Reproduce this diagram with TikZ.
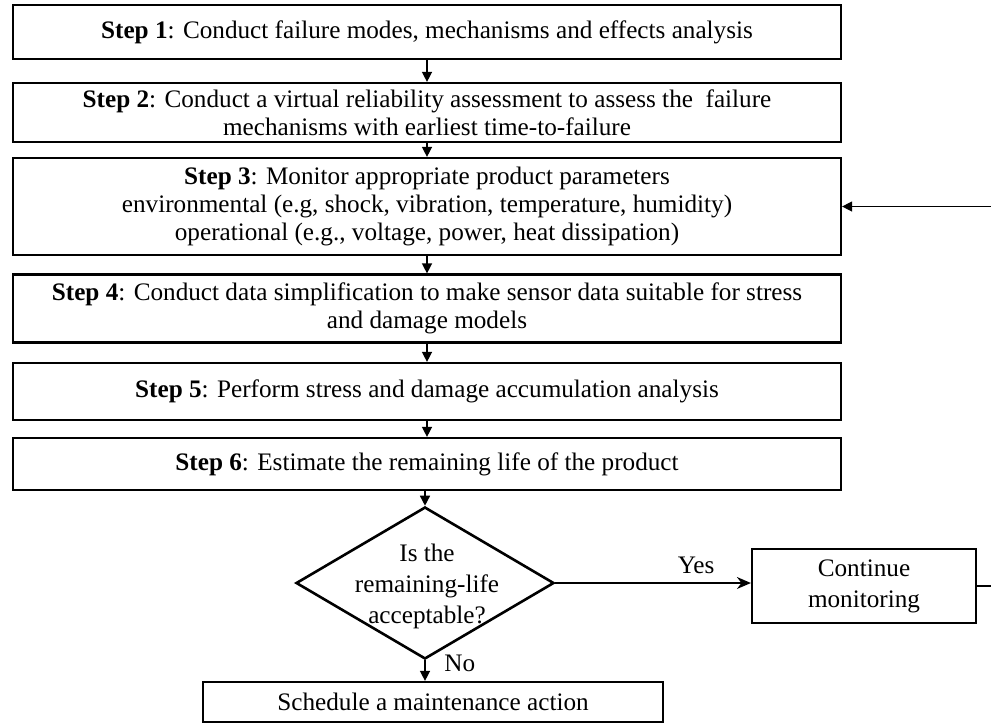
\documentclass[tikz,border=0pt]{standalone}
\usepackage{fontspec}
\setmainfont{Liberation Serif}
\usepackage{tikz}
\usetikzlibrary{shapes.geometric, arrows.meta, positioning}

\begin{document}
\begin{tikzpicture}[x=0.5pt, y=-0.5pt,
    font=\fontsize{12.6}{14}\selectfont,
    stepbox/.style={draw, line width=1.1pt, minimum width=414pt, align=center, inner sep=2pt},
    decision/.style={draw, diamond, line width=1.3pt, minimum width=129pt, minimum height=76pt, inner sep=0pt},
    flow/.style={line width=0.7pt, -{Triangle[length=5pt, width=5pt]}},
    tall/.style={align=center, font=\fontsize{12.6}{15.5}\selectfont}]
  \useasboundingbox (0, 0) rectangle (991, 724);

  % the six steps
  \node[stepbox, minimum height=27pt] (s1) at (427, 32) {\textbf{Step 1}: Conduct failure modes, mechanisms and effects analysis};
  \node[stepbox, minimum height=29.5pt] (s2) at (427, 112.5) {\textbf{Step 2}: Conduct a virtual reliability assessment to assess the\ \ failure\\mechanisms with earliest time-to-failure};
  \node[stepbox, minimum height=48.5pt] (s3) at (427, 206.5) {\textbf{Step 3}: Monitor appropriate product parameters\\environmental (e.g, shock, vibration, temperature, humidity)\\operational (e.g., voltage, power, heat dissipation)};
  \node[stepbox, minimum height=34pt] (s4) at (427, 308.5) {\textbf{Step 4}: Conduct data simplification to make sensor data suitable for stress\\and damage models};
  \node[stepbox, minimum height=28.5pt] (s5) at (427, 391.5) {\textbf{Step 5}: Perform stress and damage accumulation analysis};
  \node[stepbox, minimum height=26pt] (s6) at (427, 464) {\textbf{Step 6}: Estimate the remaining life of the product};

  % decision and outcomes
  \node[decision] (check) at (425, 583) {};
  \node[tall] (checktext) at (427, 586) {Is the\\remaining-life\\acceptable?};
  \node[draw, line width=1.1pt, minimum width=112pt, minimum height=37pt, tall] (cont) at (864, 586) {Continue\\monitoring};
  \node[draw, line width=1.1pt, minimum width=230pt, minimum height=20pt, inner sep=0pt] (maint) at (433, 702) {Schedule a maintenance action};

  \draw[flow] (s1) -- (s2);
  \draw[flow] (s2) -- (s3);
  \draw[flow] (s3) -- (s4);
  \draw[flow] (s4) -- (s5);
  \draw[flow] (s5) -- (s6);
  \draw[flow] (s6.south -| check.north) -- (check.north);
  \draw[line width=0.7pt, -{Stealth[length=7pt, width=6pt]}] (check.east) -- (check.east -| cont.west) node[pos=0.72, above=1pt] {Yes};
  \draw[flow] (check.south) -- (check.south |- maint.north) node[pos=0.15, right=6pt] {No};

  % back to monitoring
  \draw[flow] (cont.east) -- ++(30, 0) |- (s3.east);
\end{tikzpicture}
\end{document}
